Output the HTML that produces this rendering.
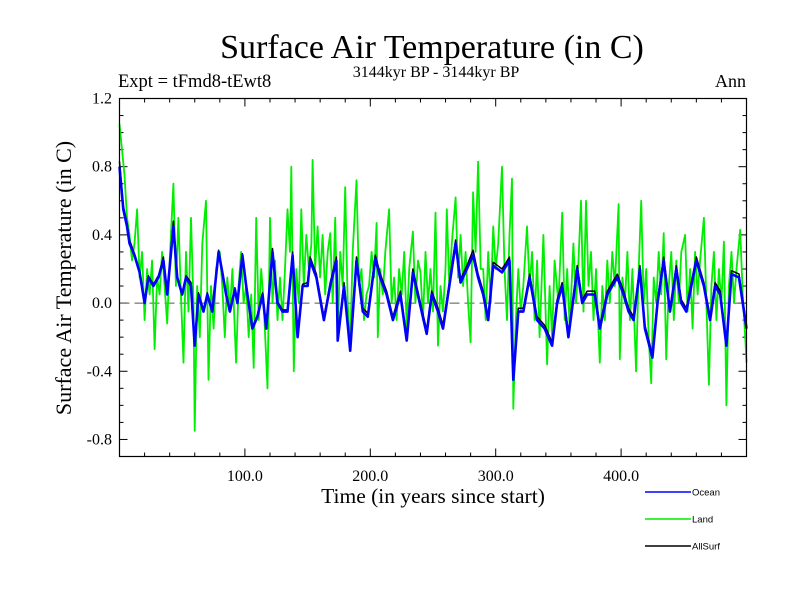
<!DOCTYPE html>
<html><head><meta charset="utf-8"><style>
html,body{margin:0;padding:0;background:#fff;}
svg text{font-family:"Liberation Serif",serif;}
</style></head><body>
<svg id="chart" width="800" height="600" xmlns="http://www.w3.org/2000/svg">
<rect width="800" height="600" fill="#fff"/>
<text x="432" y="58" font-size="34" text-anchor="middle">Surface Air Temperature (in C)</text>
<text x="436" y="77" font-size="16" text-anchor="middle">3144kyr BP - 3144kyr BP</text>
<text x="118" y="87" font-size="18.5">Expt = tFmd8-tEwt8</text>
<text x="746" y="87" font-size="18" text-anchor="end">Ann</text>
<text transform="translate(71,278) rotate(-90)" font-size="22" text-anchor="middle">Surface Air Temperature (in C)</text>
<text x="433" y="503" font-size="21.5" text-anchor="middle">Time (in years since start)</text>
<g id="ticks"></g>
<g id="plot"></g>
<rect x="119.5" y="98.5" width="627" height="358" fill="none" stroke="#000" stroke-width="1.2"/>
<g id="legend"></g>
</svg>
<script>
const xTicks=[100,200,300,400];
const xTickLabels=["100.0","200.0","300.0","400.0"];
const yTicks=[1.2,0.8,0.4,0.0,-0.4,-0.8];
const yTickLabels=["1.2","0.8","0.4","0.0","-0.4","-0.8"];
const landYears=[0,2,4,6,8,10,12,14,16,18,20,22,24,26,28,30,32,34,36,38,40,43,45,47,49,51,53,55,57,59,60,62,64,66,69,71,73,75,77,80,82,84,86,88,90,93,95,97,99,101,103,105,107,109,111,113,115,118,120,122,124,126,128,130,132,134,136,137,139,141,143,145,147,149,151,153,154,156,158,160,162,164,166,168,170,172,174,176,178,180,182,184,186,189,191,193,195,197,199,201,203,205,206,208,210,212,215,217,219,221,223,225,227,229,231,234,236,238,240,242,244,246,248,250,252,254,256,258,260,261,263,265,268,270,272,274,276,278,280,282,284,286,288,290,292,294,296,298,300,302,305,307,309,311,313,314,316,318,320,322,325,327,329,331,333,335,338,341,343,345,347,350,353,355,357,359,362,364,366,368,370,372,374,376,378,380,383,385,387,389,391,393,395,398,399,401,403,405,407,409,412,414,416,418,420,422,424,426,428,430,432,434,436,438,440,442,444,446,448,451,453,455,457,459,461,463,466,468,470,472,474,476,478,480,482,484,486,488,490,492,495,497,499,500];
const landValues=[1.05,0.9,0.75,0.5,0.4,0.25,0.35,0.55,0.15,0.3,-0.1,0.2,0.05,0.25,-0.27,0.15,0.05,0.3,0.1,-0.12,0.25,0.7,0.1,0.5,0.05,-0.35,0.3,-0.05,0.5,0.0,-0.75,0.1,-0.2,0.35,0.6,-0.45,0.1,-0.15,0.2,0.3,0.1,-0.2,0.15,-0.05,0.2,-0.35,0.1,0.3,0.0,0.1,-0.2,0.05,-0.38,0.5,-0.1,0.2,0.0,-0.5,0.5,0.0,0.25,-0.1,0.15,-0.1,0.2,0.55,0.3,0.8,-0.4,0.2,0.0,0.55,0.1,0.4,0.2,0.35,0.84,0.2,0.45,0.15,0.4,0.05,0.3,0.41,0.0,0.5,-0.2,0.3,0.1,0.68,0.0,-0.25,0.3,0.72,0.1,0.2,-0.1,0.05,0.1,0.3,0.15,0.47,-0.2,0.2,0.05,0.3,0.55,0.0,0.15,-0.1,0.2,0.05,0.3,-0.15,0.2,0.42,0.0,0.25,0.18,-0.1,0.3,0.0,0.2,-0.05,0.53,-0.25,0.1,-0.05,0.2,0.55,0.1,0.35,0.62,0.15,0.4,0.1,0.3,0.0,-0.23,0.65,0.3,0.83,0.2,0.2,-0.1,0.3,0.0,0.45,0.2,0.35,0.8,0.2,-0.1,0.4,0.73,-0.62,-0.1,0.2,-0.05,0.1,0.45,0.1,0.3,-0.1,0.25,-0.2,0.4,-0.36,0.1,-0.2,0.25,0.0,0.53,-0.1,0.2,-0.15,0.35,0.0,0.25,0.6,-0.05,0.6,0.1,0.3,-0.1,0.2,-0.35,0.1,-0.1,0.25,0.0,0.3,0.1,0.58,-0.33,0.15,0.0,0.3,-0.1,0.2,-0.4,0.2,0.6,0.0,0.2,-0.2,-0.47,0.15,0.0,0.3,0.05,0.41,-0.33,0.1,0.3,-0.1,0.25,0.0,0.3,0.4,-0.05,0.2,-0.15,0.3,0.05,0.25,0.5,0.0,-0.48,0.1,0.3,-0.1,0.2,0.0,0.36,-0.6,0.1,0.3,0.0,0.2,0.43,0.05,-0.2,-0.35];
const oceanYears=[0,3,6,8,12,16,20,23,27,31,35,38,43,46,50,53,57,60,63,67,70,74,79,82,85,88,92,94,98,101,106,110,114,117,122,126,130,134,138,142,146,150,152,157,163,168,173,174,179,184,189,194,198,204,208,213,218,224,229,234,240,245,249,254,258,263,268,272,277,282,286,290,294,298,305,311,314,318,322,327,333,339,345,349,353,358,365,369,373,379,383,389,397,402,406,410,415,419,425,429,434,439,444,448,452,456,460,466,471,475,479,484,488,494,500];
const oceanValues=[0.8,0.55,0.45,0.35,0.28,0.18,0.0,0.15,0.1,0.15,0.25,0.05,0.45,0.15,0.05,0.15,0.1,-0.25,0.05,-0.05,0.05,-0.05,0.3,0.18,0.05,-0.05,0.08,0.0,0.28,0.1,-0.15,-0.08,0.05,-0.15,0.3,0.0,-0.05,-0.05,0.28,-0.2,0.1,0.1,0.25,0.15,-0.1,0.1,0.25,-0.22,0.1,-0.28,0.25,-0.05,-0.08,0.26,0.15,0.05,-0.1,0.05,-0.22,0.18,-0.02,-0.18,0.05,-0.05,-0.15,0.1,0.35,0.12,0.2,0.28,0.15,0.05,-0.1,0.22,0.18,0.25,-0.45,-0.05,-0.05,0.15,-0.1,-0.15,-0.25,0.0,0.1,-0.2,0.2,0.0,0.05,0.05,-0.15,0.05,0.15,0.05,-0.05,-0.1,0.2,-0.15,-0.32,0.0,0.25,-0.05,0.2,0.0,-0.05,0.1,0.25,0.1,-0.1,0.1,0.05,-0.25,0.17,0.15,-0.15];
const allYears=[0,3,6,8,12,16,20,23,27,31,35,38,43,46,50,53,57,60,63,67,70,74,79,82,85,88,92,94,98,101,106,110,114,117,122,126,130,134,138,142,146,150,152,157,163,168,173,174,179,184,189,194,198,204,208,213,218,224,229,234,240,245,249,254,258,263,268,272,277,282,286,290,294,298,305,311,314,318,322,327,333,339,345,349,353,358,365,369,373,379,383,389,397,402,406,410,415,419,425,429,434,439,444,448,452,456,460,466,471,475,479,484,488,494,500];
const allValues=[0.83,0.57,0.47,0.37,0.29,0.19,0.01,0.16,0.11,0.16,0.27,0.06,0.48,0.16,0.06,0.16,0.12,-0.23,0.06,-0.04,0.06,-0.04,0.31,0.19,0.06,-0.04,0.09,0.01,0.29,0.11,-0.14,-0.07,0.06,-0.14,0.32,0.01,-0.04,-0.04,0.3,-0.19,0.11,0.12,0.27,0.17,-0.08,0.12,0.27,-0.2,0.12,-0.26,0.27,-0.03,-0.06,0.28,0.17,0.07,-0.08,0.07,-0.2,0.2,0.0,-0.16,0.07,-0.03,-0.13,0.12,0.37,0.14,0.22,0.31,0.17,0.07,-0.08,0.24,0.2,0.27,-0.43,-0.03,-0.03,0.17,-0.08,-0.13,-0.23,0.02,0.12,-0.18,0.22,0.02,0.07,0.07,-0.13,0.07,0.17,0.07,-0.03,-0.08,0.22,-0.13,-0.3,0.02,0.27,-0.03,0.22,0.02,-0.03,0.12,0.27,0.12,-0.08,0.12,0.07,-0.23,0.19,0.17,-0.13];

const X0=119.5,X1=746.5,Y0=98.5,Y1=456.5,XMIN=0,XMAX=500,YMIN=-0.9,YMAX=1.2;
function xs(v){return X0+(v-XMIN)/(XMAX-XMIN)*(X1-X0);}
function ys(v){return Y1-(v-YMIN)/(YMAX-YMIN)*(Y1-Y0);}
const NS="http://www.w3.org/2000/svg";
function mk(tag,attrs,parent){const e=document.createElementNS(NS,tag);for(const k in attrs)e.setAttribute(k,attrs[k]);parent.appendChild(e);return e;}
const tg=document.getElementById('ticks');
for(let v=20;v<500;v+=20){
  const maj=v%100===0,L=maj?8:4,x=xs(v);
  const t1=mk('line',{x1:x,x2:x,y1:Y1,y2:Y1-L,stroke:'#000'},tg);
  
  
  const t2=mk('line',{x1:x,x2:x,y1:Y0,y2:Y0+L,stroke:'#000'},tg);
  
  
}
for(let i=-8;i<=11;i++){
  const v=i/10,maj=(i%4===0),L=maj?8:4,y=ys(v);
  const t1=mk('line',{x1:X0,x2:X0+L,y1:y,y2:y,stroke:'#000'},tg);
  
  
  const t2=mk('line',{x1:X1,x2:X1-L,y1:y,y2:y,stroke:'#000'},tg);
  
  
}
xTicks.forEach((v,i)=>{
  const t=mk('text',{x:xs(v),y:481,'font-size':16,'text-anchor':'middle'},tg);
  t.textContent=xTickLabels[i];
  
  
});
yTicks.forEach((v,i)=>{
  const t=mk('text',{x:112,y:ys(v)+5,'font-size':16,'text-anchor':'end'},tg);
  t.textContent=yTickLabels[i];
  
  
});
const pg=document.getElementById('plot');
const zl=mk('line',{x1:X0,x2:X1,y1:ys(0),y2:ys(0),stroke:'#555','stroke-dasharray':'10,5','stroke-width':1},pg);


function series(xsArr,vals,color,w,name){
  const d=xsArr.map((x,i)=>(i?'L':'M')+xs(x).toFixed(1)+','+ys(vals[i]).toFixed(1)).join('');
  const p=mk('path',{d:d,fill:'none',stroke:color,'stroke-width':w,'stroke-linejoin':'round'},pg);
  
  
}
series(landYears,landValues,'#00ee00',1.8,'land-line');
series(allYears,allValues,'#000000',1.5,'allsurf-line');
series(oceanYears,oceanValues,'#0000ff',2.6,'ocean-line');
const lg=document.getElementById('legend');
[['Ocean','#0000ff',492,'legend-ocean'],['Land','#00ee00',519,'legend-land'],['AllSurf','#000000',546,'legend-allsurf']].forEach(a=>{
  const l=mk('line',{x1:645,x2:691,y1:a[2],y2:a[2],stroke:a[1],'stroke-width':1.5},lg);
  
  
  const t=mk('text',{x:692,y:a[2]+3.5,'font-size':9.5,style:'font-family:"Liberation Sans",sans-serif'},lg);
  t.textContent=a[0];
  
  
});
</script>
</body></html>
